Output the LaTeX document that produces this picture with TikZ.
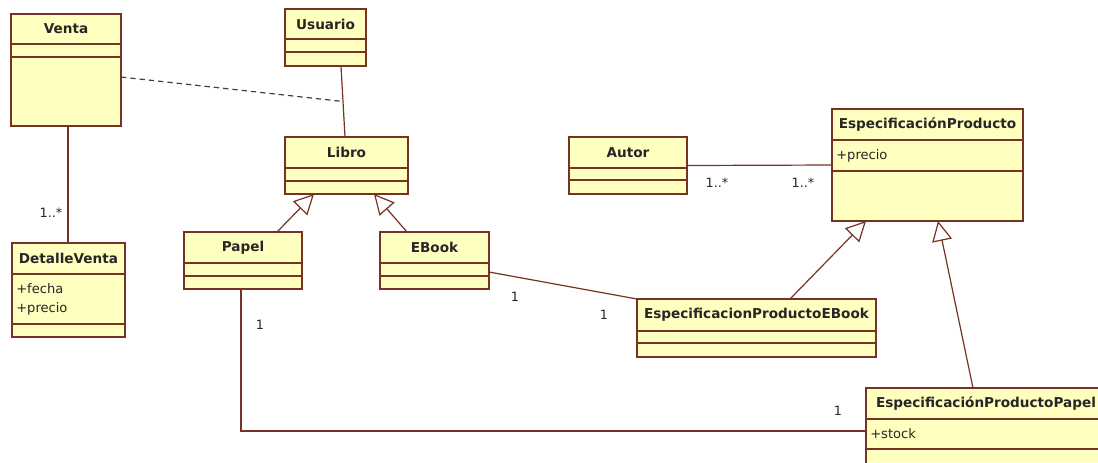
\documentclass[tikz,border=0pt]{standalone}
\usepackage{fontspec}
\setmainfont{DejaVu Sans}
\usetikzlibrary{arrows.meta,calc}
\definecolor{classfill}{RGB}{255,255,191}
\definecolor{classline}{RGB}{120,50,35}
\definecolor{labeltext}{RGB}{40,40,40}
\tikzset{
  umlbox/.style={draw=classline, fill=classfill, line width=1.1pt, inner sep=0pt, outer sep=0pt},
  umldiv/.style={draw=classline, line width=1pt},
  umltitle/.style={font=\bfseries\fontsize{10.2}{12}\selectfont, text=black!85, inner sep=0pt},
  umlattr/.style={font=\fontsize{9.8}{14.2}\selectfont, text=black!85, inner sep=0pt, align=left, anchor=north west},
  assoc/.style={draw=classline, line width=0.9pt},
  depend/.style={draw=black!75, line width=0.9pt, dash pattern=on 4pt off 3pt},
  generalize/.style={draw=classline, line width=0.9pt, -{Triangle[open, length=15pt, width=15pt, fill=white]}},
  mult/.style={font=\fontsize{9.6}{11}\selectfont, text=labeltext, inner sep=0pt},
}
% \umlclass{name}{x}{y}{width}{height}{first divider}{second divider}{title}
\newcommand\umlclass[8]{%
  \node[umlbox, anchor=north west, minimum width=#4*0.75pt, minimum height=#5*0.75pt] (#1) at (#2,#3) {};
  \draw[umldiv] ($(#1.north west)+(0,#6)$) -- ($(#1.north east)+(0,#6)$);
  \draw[umldiv] ($(#1.north west)+(0,#7)$) -- ($(#1.north east)+(0,#7)$);
  \node[umltitle] (#1-title) at ($(#1.north)+(0,#6/2)$) {#8};
}
\begin{document}
\begin{tikzpicture}[x=0.75pt, y=-0.75pt]
  \useasboundingbox (0,0) rectangle (1098,462);
  \fill[white] (0,0) rectangle (1098,462);
  \clip (0,0) rectangle (1098,462);

  % classes
  \umlclass{venta}{11}{14}{110}{112}{30}{43}{Venta}
  \umlclass{usuario}{285}{9}{81}{57}{30}{43}{Usuario}
  \umlclass{libro}{285}{137}{123}{57}{31}{44}{Libro}
  \umlclass{papel}{184}{232}{118}{57}{31}{44}{Papel}
  \umlclass{ebook}{380}{232}{109}{57}{31}{44}{EBook}
  \umlclass{detalle}{12}{243}{113}{94}{31}{81}{DetalleVenta}
  \umlclass{autor}{569}{137}{118}{57}{31}{43}{Autor}
  \umlclass{espprod}{832}{109}{191}{112}{31}{62}{EspecificaciónProducto}
  \umlclass{espebook}{637}{299}{239}{58}{32}{44}{EspecificacionProductoEBook}
  \umlclass{esppapel}{866}{388}{240}{86}{31}{61}{EspecificaciónProductoPapel}

  % attributes
  \node[umlattr] (detalle-attr) at ($(detalle.north west)+(4,40)$) {+fecha\\+precio};
  \node[umlattr] (espprod-attr) at ($(espprod.north west)+(4,40)$) {+precio};
  \node[umlattr] (esppapel-attr) at ($(esppapel.north west)+(4,40)$) {+stock};

  % Usuario -- Libro, with the dependency from Venta joining it
  \draw[assoc] ([xshift=15.5*0.75pt]usuario.south) -- ([xshift=-1.5*0.75pt]libro.north);
  \coordinate (userjoin) at ($([xshift=15.5*0.75pt]usuario.south)!0.5!([xshift=-1.5*0.75pt]libro.north)$);
  \draw[depend] ([yshift=-7*0.75pt]venta.east) -- (userjoin);

  % Venta -- DetalleVenta
  \draw[assoc] ([xshift=2*0.75pt]venta.south) -- ([xshift=-0.5*0.75pt]detalle.north);
  \node[mult] (m-detalle) at (51,213) {1..*};

  % generalizations onto Libro
  \draw[generalize] ([xshift=34*0.75pt]papel.north) -- ([xshift=-32.5*0.75pt]libro.south);
  \draw[generalize] ([xshift=-27.5*0.75pt]ebook.north) -- ([xshift=27.5*0.75pt]libro.south);

  % Autor -- EspecificaciónProducto
  \draw[assoc] (autor.east) -- (espprod.west);
  \node[mult] (m-autor) at (717,183) {1..*};
  \node[mult] (m-espprod) at (803,183) {1..*};

  % EBook -- EspecificacionProductoEBook
  \draw[assoc] ([yshift=-11.5*0.75pt]ebook.east) -- (espebook.north west);
  \node[mult] (m-ebook) at (515,297) {1};
  \node[mult] (m-espebook) at (604,315) {1};

  % generalizations onto EspecificaciónProducto
  \draw[generalize] ([xshift=33.5*0.75pt]espebook.north) -- ([xshift=-61.5*0.75pt]espprod.south);
  \draw[generalize] ([xshift=-13*0.75pt]esppapel.north) -- ([xshift=10.5*0.75pt]espprod.south);

  % Papel -- EspecificaciónProductoPapel
  \draw[assoc] ([xshift=-2*0.75pt]papel.south) |- (esppapel.west);
  \node[mult] (m-papel) at (260,325) {1};
  \node[mult] (m-esppapel) at (838,411) {1};
\end{tikzpicture}
\end{document}
